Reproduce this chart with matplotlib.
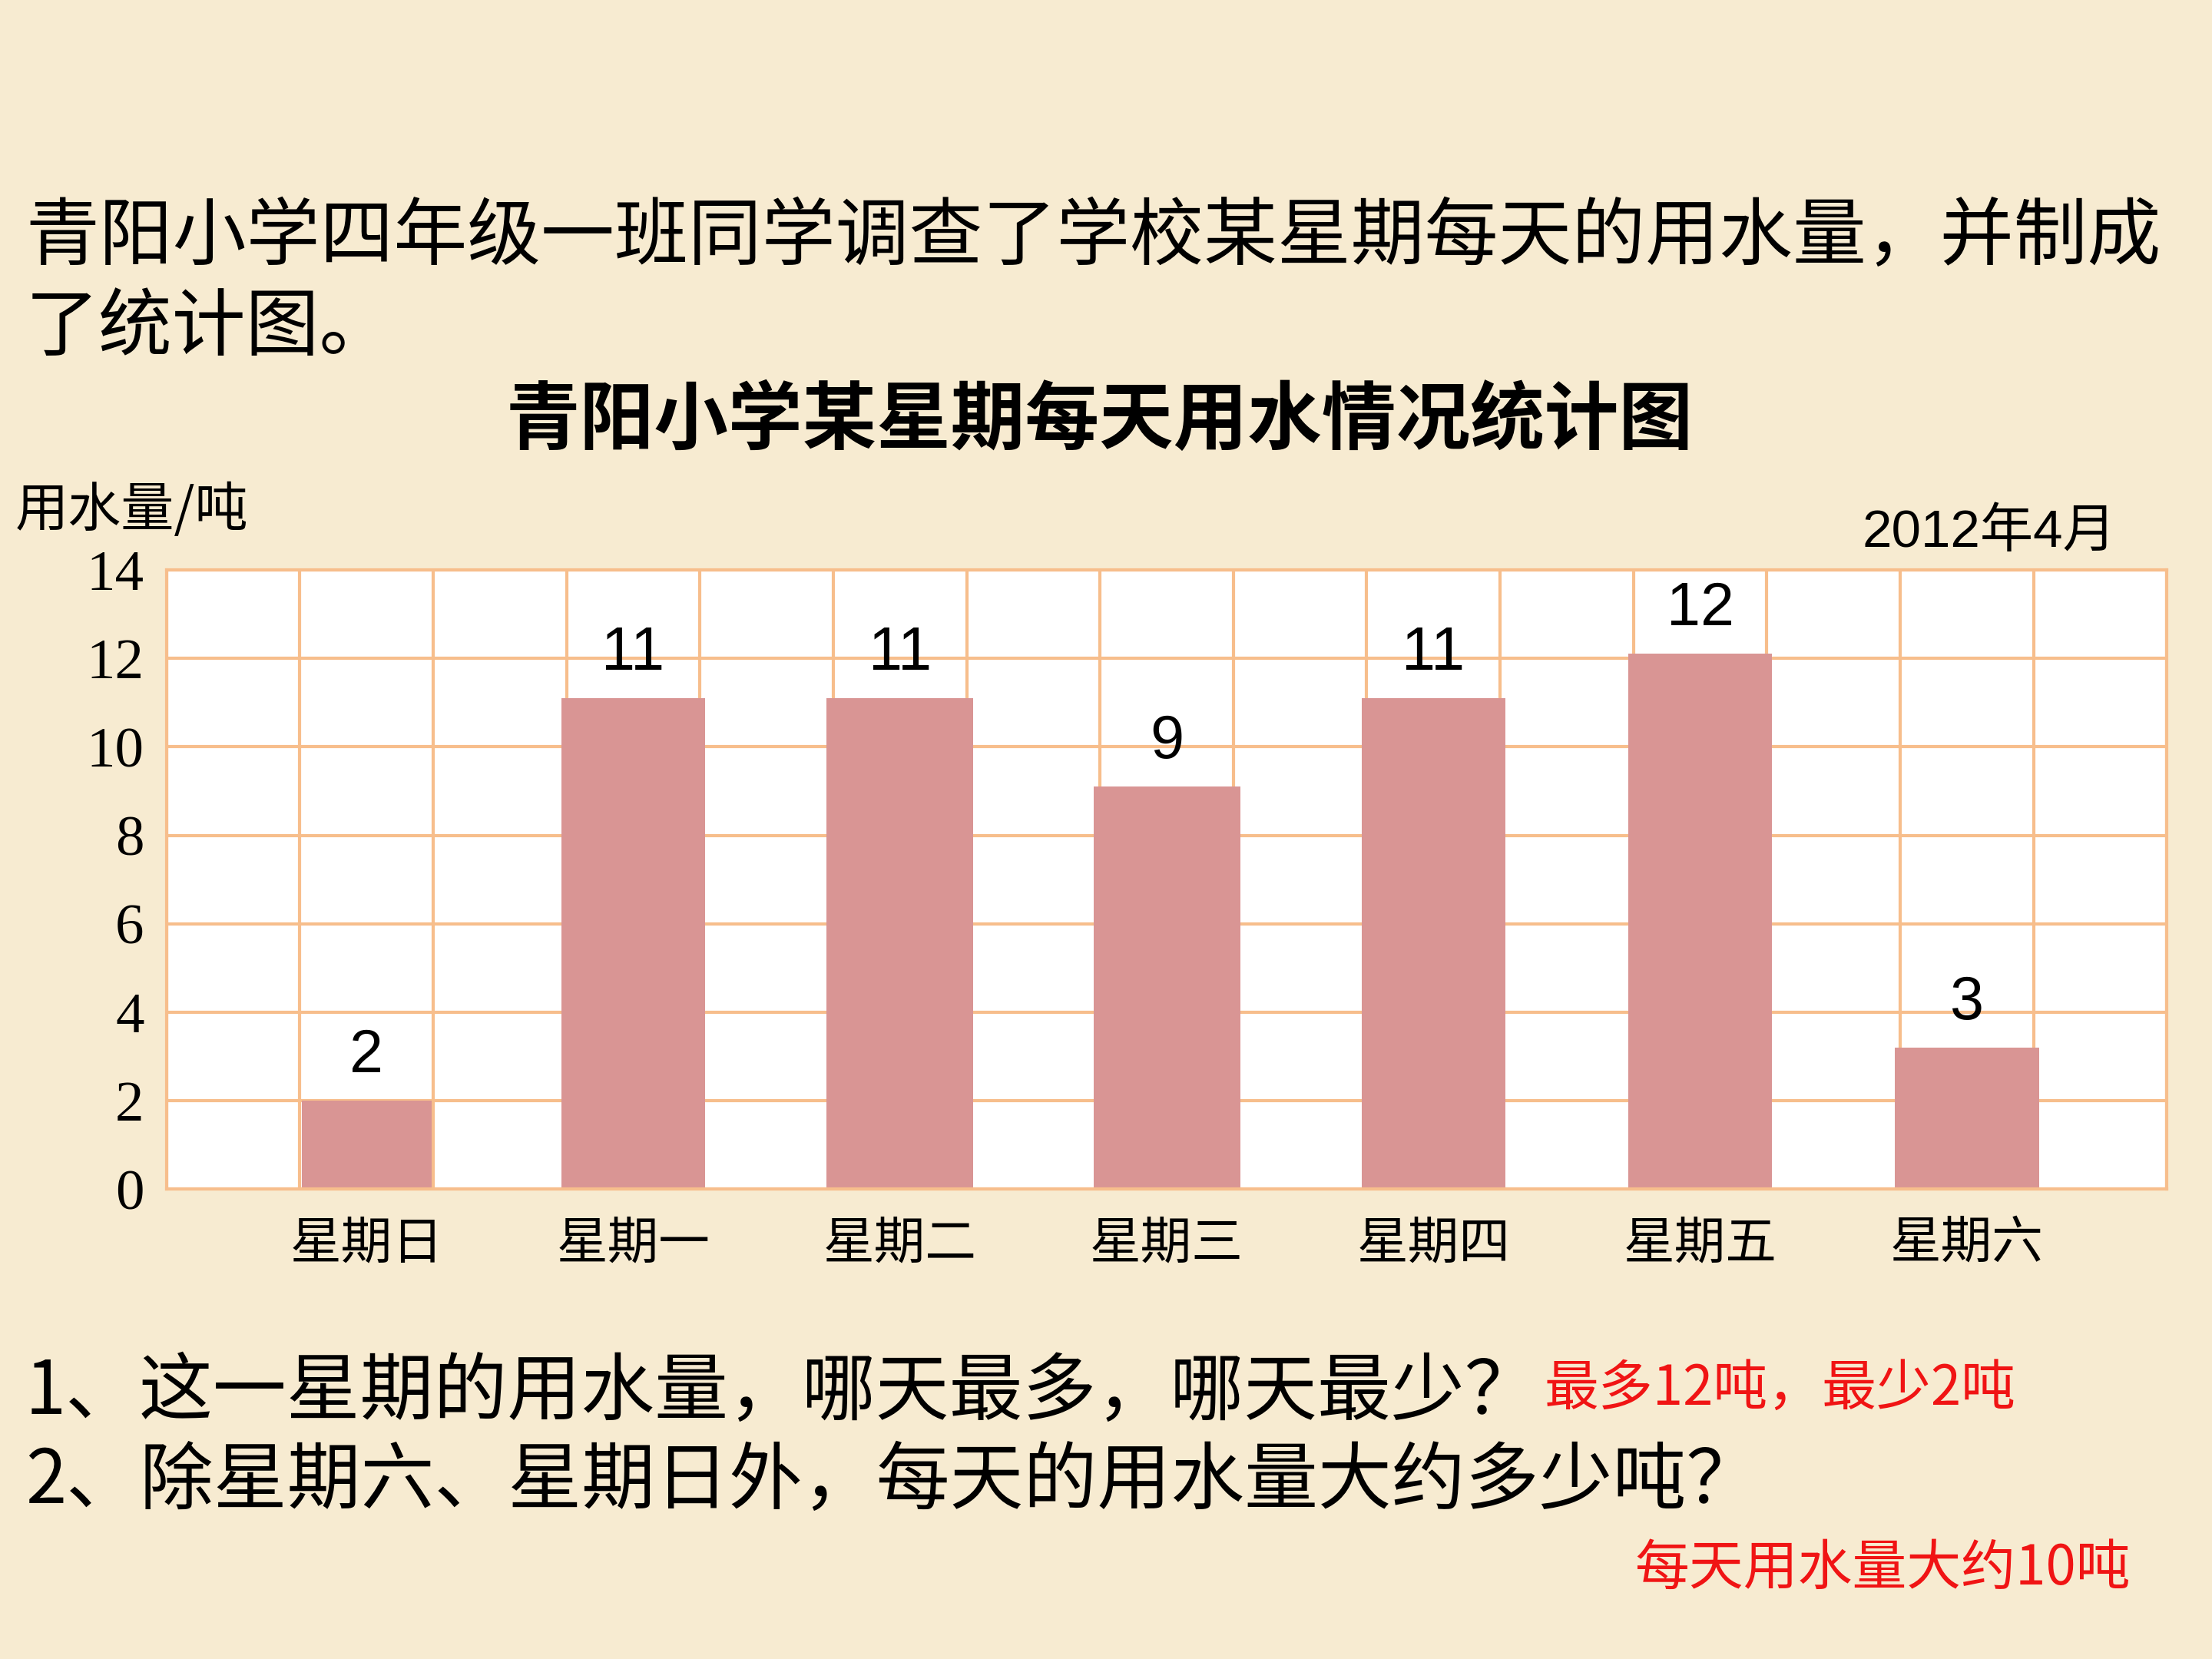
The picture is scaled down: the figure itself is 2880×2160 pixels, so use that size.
import matplotlib.pyplot as plt

plt.rcParams['font.family'] = ['Noto Sans CJK SC', 'DejaVu Sans']

# data
days = ['星期日', '星期一', '星期二', '星期三', '星期四', '星期五', '星期六']
water = [2, 11.1, 11.1, 9.1, 11.1, 12.1, 3.2]
water_labels = ['2', '11', '11', '9', '11', '12', '3']
y_ticks = [0, 2, 4, 6, 8, 10, 12, 14]

bg = '#F7EBD1'
grid_c = '#F7BE8C'
bar_c = '#D99594'

fig = plt.figure(figsize=(9.6, 7.2), dpi=300, facecolor=bg)

# heading text
fig.text(0.0115, 0.857, '青阳小学四年级一班同学调查了学校某星期每天的用水量，并制成',
         fontsize=23, va='center', ha='left')
fig.text(0.0115, 0.802, '了统计图。', fontsize=23, va='center', ha='left')
fig.text(0.497, 0.746, '青阳小学某星期每天用水情况统计图', fontsize=23.2,
         fontweight='bold', va='center', ha='center')
fig.text(0.007, 0.692, '用水量/吨', fontsize=16.6, va='center', ha='left')
fig.text(0.842, 0.679, '2012年4月', fontsize=16.6, va='center', ha='left',
         family=['Liberation Sans', 'Noto Sans CJK SC'])

ax = fig.add_axes([0.0753, 0.2832, 0.9043, 0.3733])
ax.set_facecolor('white')
ax.set_xlim(0, 15)
ax.set_ylim(0, 14)

# grid: every column vertically, every 2 t horizontally
for gx in range(16):
    ax.axvline(gx, color=grid_c, lw=1.0, zorder=1)
for gy in y_ticks:
    ax.axhline(gy, color=grid_c, lw=1.0, zorder=1)
for sp in ax.spines.values():
    sp.set_color(grid_c)
    sp.set_linewidth(1.0)

xs = [1.5 + 2 * i for i in range(len(days))]
widths = [0.97, 1.08, 1.1, 1.1, 1.08, 1.08, 1.08]
ax.bar(xs, water, width=widths, color=bar_c, zorder=2)

for x, v, lab in zip(xs, water, water_labels):
    ax.text(x, v + 1.0, lab, fontsize=19, ha='center', va='center',
            family=['Liberation Sans', 'DejaVu Sans'], zorder=3)

ax.set_yticks(y_ticks)
ax.set_yticklabels([str(t) for t in y_ticks], family=['Liberation Serif'], fontsize=18)
ax.set_xticks(xs)
ax.set_xticklabels(days, fontsize=16)
ax.tick_params(axis='both', length=0)
ax.tick_params(axis='y', pad=7)
ax.tick_params(axis='x', pad=9)

# questions and answers
fig.text(0.0115, 0.1607, '1、这一星期的用水量，哪天最多，哪天最少？', fontsize=23,
         va='center', ha='left')
fig.text(0.698, 0.163, '最多12吨，最少2吨', fontsize=17, color='#F01414',
         va='center', ha='left')
fig.text(0.0115, 0.107, '2、除星期六、星期日外，每天的用水量大约多少吨？', fontsize=23,
         va='center', ha='left')
fig.text(0.963, 0.0544, '每天用水量大约10吨', fontsize=17, color='#F01414',
         va='center', ha='right')

fig.savefig('out.png', dpi=300, facecolor=bg)
